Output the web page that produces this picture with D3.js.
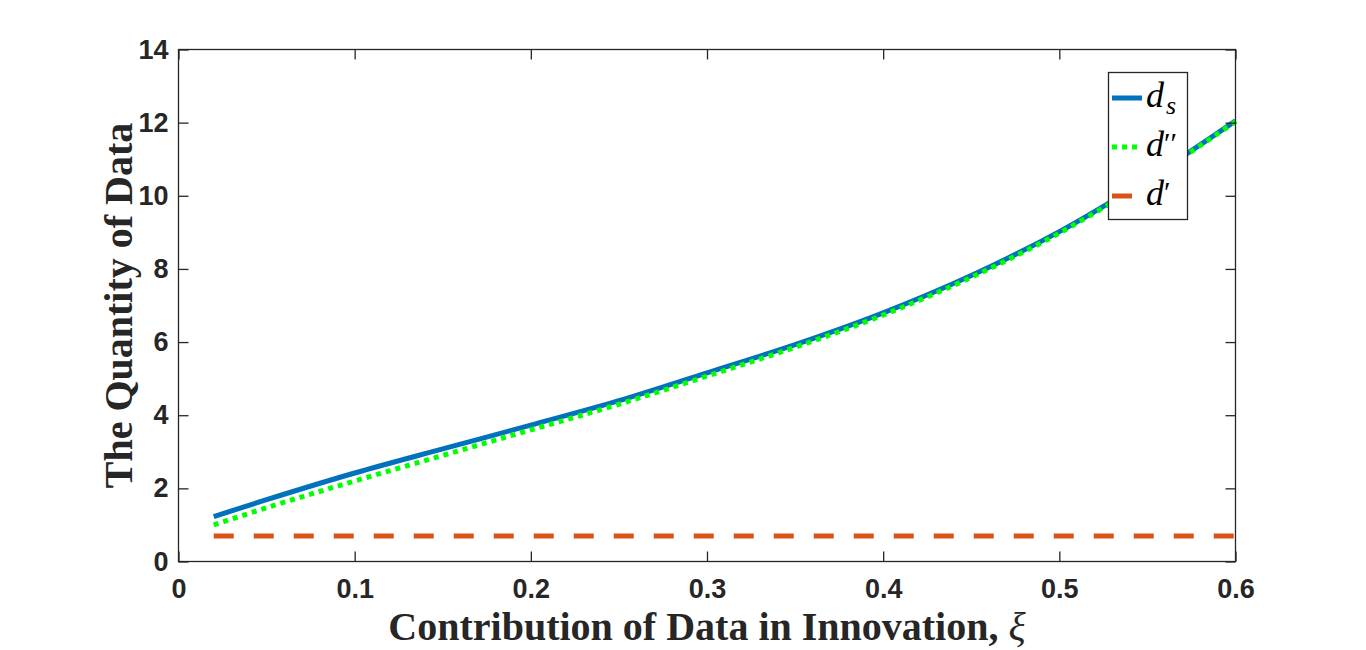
<!DOCTYPE html>
<html><head><meta charset="utf-8">
<script src="https://cdn.jsdelivr.net/npm/d3@7"></script>
<style>body{margin:0;background:#fff}svg{display:block}</style>
</head><body>
<svg id="c" width="1366" height="650"></svg>
<script>
const xi      = [0.02, 0.05, 0.10, 0.15, 0.20, 0.25, 0.30, 0.35, 0.40, 0.45, 0.50, 0.55, 0.60];
const dS      = [1.23, 1.69, 2.42, 3.08, 3.73, 4.40, 5.16, 5.93, 6.80, 7.82, 9.02, 10.45, 12.05];
const dDouble = [1.00, 1.47, 2.20, 2.90, 3.60, 4.30, 5.07, 5.86, 6.74, 7.77, 8.98, 10.42, 12.03];
const dPrime  = [0.70, 0.70, 0.70, 0.70, 0.70, 0.70, 0.70, 0.70, 0.70, 0.70, 0.70, 0.70, 0.70];
const xTicks = [0, 0.1, 0.2, 0.3, 0.4, 0.5, 0.6];
const xTickLabels = ["0", "0.1", "0.2", "0.3", "0.4", "0.5", "0.6"];
const yTicks = [0, 2, 4, 6, 8, 10, 12, 14];
const yTickLabels = ["0", "2", "4", "6", "8", "10", "12", "14"];

const svg = d3.select("#c");
const L = 178.5, R = 1235.5, T = 49.5, B = 561.5;
const x = d3.scaleLinear().domain([0, 0.6]).range([L, R]);
const y = d3.scaleLinear().domain([0, 14]).range([B, T]);
const axisColor = "#262626";
const tickFont = "'Liberation Sans', Arial, sans-serif";

// series
const line = d3.line().x((d, i) => x(xi[i])).y(d => y(d)).curve(d3.curveMonotoneX);
svg.append("path").datum(dS).attr("d", line).attr("fill", "none")
  .attr("stroke", "#0072BD").attr("stroke-width", 5);
svg.append("path").datum(dDouble).attr("d", line).attr("fill", "none")
  .attr("stroke", "#00FF00").attr("stroke-width", 5).attr("stroke-dasharray", "5,5");
svg.append("path").datum(dPrime).attr("d", line).attr("fill", "none")
  .attr("stroke", "#D95319").attr("stroke-width", 5).attr("stroke-dasharray", "20,20");

// axes box with inward ticks
svg.append("rect").attr("x", L).attr("y", T).attr("width", R - L).attr("height", B - T)
  .attr("fill", "none").attr("stroke", axisColor).attr("stroke-width", 1.3);
const gBottom = svg.append("g").attr("transform", `translate(0,${B})`)
  .call(d3.axisBottom(x).tickValues(xTicks).tickSizeInner(-10).tickSizeOuter(0).tickPadding(17.5)
    .tickFormat((d, i) => xTickLabels[i]));
const gTop = svg.append("g").attr("transform", `translate(0,${T})`)
  .call(d3.axisTop(x).tickValues(xTicks).tickSizeInner(-10).tickSizeOuter(0).tickFormat(""));
const gLeft = svg.append("g").attr("transform", `translate(${L},0)`)
  .call(d3.axisLeft(y).tickValues(yTicks).tickSizeInner(-10).tickSizeOuter(0).tickPadding(10)
    .tickFormat((d, i) => yTickLabels[i]));
const gRight = svg.append("g").attr("transform", `translate(${R},0)`)
  .call(d3.axisRight(y).tickValues(yTicks).tickSizeInner(-10).tickSizeOuter(0).tickFormat(""));
[gBottom, gTop, gLeft, gRight].forEach(g => {
  g.select(".domain").remove();
  g.selectAll("line").attr("stroke", axisColor).attr("stroke-width", 1.3);
  g.selectAll("text").attr("fill", axisColor).style("font-family", tickFont)
    .style("font-size", "27px").style("font-weight", "bold");
});

// axis labels
svg.append("text").attr("x", (L + R) / 2).attr("y", 640).attr("text-anchor", "middle")
  .style("font-family", "'Liberation Serif', 'Times New Roman', serif").style("font-weight", "bold")
  .style("font-size", "40px").attr("fill", axisColor)
  .text("Contribution of Data in Innovation, ")
  .append("tspan").style("font-style", "italic").style("font-weight", "normal").text("ξ");
svg.append("text").attr("transform", `translate(132,${(T + B) / 2}) rotate(-90)`)
  .attr("text-anchor", "middle")
  .style("font-family", "'Liberation Serif', 'Times New Roman', serif").style("font-weight", "bold")
  .style("font-size", "40px").attr("fill", axisColor)
  .text("The Quantity of Data");

// legend
const lg = svg.append("g");
lg.append("rect").attr("x", 1108.5).attr("y", 72.5).attr("width", 79).attr("height", 147)
  .attr("fill", "#fff").attr("stroke", axisColor).attr("stroke-width", 1.3);
const items = [
  {c: "#0072BD", dash: null, y: 98, main: "d", sub: "s"},
  {c: "#00FF00", dash: "5,5", y: 147, main: "d", sup: "′′"},
  {c: "#D95319", dash: "20,20", y: 196, main: "d", sup: "′"}
];
items.forEach(it => {
  const l = lg.append("line").attr("x1", 1112).attr("x2", 1142).attr("y1", it.y).attr("y2", it.y)
    .attr("stroke", it.c).attr("stroke-width", 5);
  if (it.dash) l.attr("stroke-dasharray", it.dash);
  const t = lg.append("text").attr("x", 1146).attr("y", it.y + 9)
    .style("font-family", "'Liberation Serif', 'Times New Roman', serif").style("font-style", "italic")
    .style("font-size", "36px").attr("fill", "#000");
  t.append("tspan").text(it.main);
  if (it.sub) t.append("tspan").attr("dx", 2).attr("dy", 7).style("font-size", "26px").text(it.sub);
  if (it.sup) t.append("tspan").attr("dy", -3).style("font-size", "30px").style("font-style", "normal").text(it.sup);
});
</script>
</body></html>
